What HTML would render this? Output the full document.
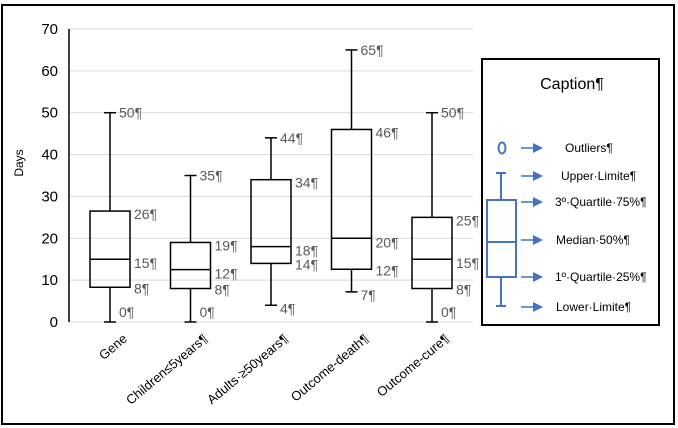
<!DOCTYPE html>
<html><head><meta charset="utf-8"><style>
body{margin:0;background:#fff}
svg{display:block;font-family:"Liberation Sans",Calibri,sans-serif}
</style></head><body>
<svg id="c" width="678" height="428">
<rect x="2" y="5" width="672" height="419" fill="none" stroke="#000" stroke-width="2"/>
<g id="grid"></g><g id="boxes"></g><g id="xl"></g>
<text x="23" y="163" font-size="12" transform="rotate(-90 23 163)" text-anchor="middle" fill="#000">Days</text>
<g>
<rect x="482" y="59" width="177" height="266" fill="none" stroke="#000" stroke-width="2"/>
<text x="572" y="89" font-size="16" text-anchor="middle">Caption¶</text>
<ellipse cx="502" cy="148" rx="3.5" ry="5.5" fill="none" stroke="#4472c4" stroke-width="2"/>
<g stroke="#4472c4" stroke-width="2" fill="none">
<line x1="496" y1="173" x2="506" y2="173"/><line x1="501" y1="173" x2="501" y2="200"/>
<rect x="487" y="200" width="29" height="77"/><line x1="487" y1="242" x2="516" y2="242"/>
<line x1="501" y1="277" x2="501" y2="306"/><line x1="496" y1="306" x2="506" y2="306"/>
</g>
<g id="leg"></g>
</g>
</svg>
<script>
const categories=["Gene","Children≤5years¶","Adults·≥50years¶","Outcome-death¶","Outcome-cure¶"];
const minV=[0,0,4,7.2,0];
const q1V=[8.3,8,14,12.6,8];
const medV=[15,12.5,18,20,15];
const q3V=[26.5,19,34,46,25];
const maxV=[50,35,44,65,50];
const minLbl=["0¶","0¶","4¶","7¶","0¶"];
const q1Lbl=["8¶","8¶","14¶","12¶","8¶"];
const medLbl=["15¶","12¶","18¶","20¶","15¶"];
const q3Lbl=["26¶","19¶","34¶","46¶","25¶"];
const maxLbl=["50¶","35¶","44¶","65¶","50¶"];
const yTicks=[0,10,20,30,40,50,60,70];
const legendItems=["Outliers¶","Upper·Limite¶","3º·Quartile·75%¶","Median·50%¶","1º·Quartile·25%¶","Lower·Limite¶"];
const legendY=[148,176,202,240,277,307];
const NS="http://www.w3.org/2000/svg";
const y=v=>322-v*(293/70);
const x=i=>110+i*80.5;
function mk(p,t,a,txt){const e=document.createElementNS(NS,t);for(const k in a)e.setAttribute(k,a[k]);if(txt!=null)e.textContent=txt;p.appendChild(e);return e;}
const g=document.getElementById('grid');
yTicks.forEach(t=>{
 const l=mk(g,'line',{x1:69,x2:473,y1:y(t),y2:y(t),stroke:'#d9d9d9'});
 
 
 const tx=mk(g,'text',{x:58,y:y(t)+5,'font-size':15,'text-anchor':'end',fill:'#000'},t);
 
 
});
const ax=mk(g,'line',{x1:69,x2:69,y1:y(70),y2:y(0),stroke:'#000','stroke-width':1.5});


const b=document.getElementById('boxes');
categories.forEach((c,i)=>{
 const cx=x(i);
 const gr=mk(b,'g',{stroke:'#000','stroke-width':1.5,fill:'none'});
 
 
 mk(gr,'line',{x1:cx,x2:cx,y1:y(maxV[i]),y2:y(q3V[i])});
 mk(gr,'line',{x1:cx,x2:cx,y1:y(q1V[i]),y2:y(minV[i])});
 mk(gr,'line',{x1:cx-6,x2:cx+6,y1:y(maxV[i]),y2:y(maxV[i])});
 mk(gr,'line',{x1:cx-6,x2:cx+6,y1:y(minV[i]),y2:y(minV[i])});
 mk(gr,'rect',{x:cx-20,y:y(q3V[i]),width:40,height:y(q1V[i])-y(q3V[i])});
 mk(gr,'line',{x1:cx-20,x2:cx+20,y1:y(medV[i]),y2:y(medV[i])});
 const lg=mk(b,'g',{'font-size':14,fill:'#595959'});
 
 
 mk(lg,'text',{x:cx+9,y:y(maxV[i])+5},maxLbl[i]);
 mk(lg,'text',{x:cx+24,y:y(q3V[i])+8},q3Lbl[i]);
 mk(lg,'text',{x:cx+24,y:y(medV[i])+9},medLbl[i]);
 mk(lg,'text',{x:cx+24,y:y(q1V[i])+6},q1Lbl[i]);
 mk(lg,'text',{x:cx+9,y:Math.min(y(minV[i])+8,317)},minLbl[i]);
 const tl=mk(document.getElementById('xl'),'text',{x:cx+18,y:340,'font-size':13,'text-anchor':'end',transform:`rotate(-40 ${cx+18} 340)`},c);
 
 
});
const lgd=document.getElementById('leg');
legendItems.forEach((t,i)=>{
 const yy=legendY[i];
 const a=mk(lgd,'g',{});
 
 
 mk(a,'line',{x1:521,x2:534,y1:yy,y2:yy,stroke:'#4472c4','stroke-width':1.5});
 mk(a,'polygon',{points:`533,${yy-5} 543,${yy} 533,${yy+5}`,fill:'#4472c4'});
 const tx=mk(lgd,'text',{x:[565,561,555,556,555,556][i],y:yy+4,'font-size':12,fill:'#000'},t);
 
 
});
</script>
</body></html>
